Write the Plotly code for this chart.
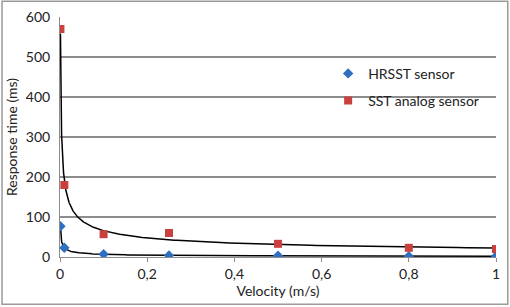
import numpy as np
import plotly.graph_objects as go

velocity = [0.001, 0.01, 0.1, 0.25, 0.5, 0.8, 1.0]
hrsst_ms = [77, 23, 7, 4, 3, 2, 2]
sst_ms = [570, 180, 57, 60, 33, 23, 20]
x_tickvals = [0, 0.2, 0.4, 0.6, 0.8, 1]
x_ticktext = ["0", "0,2", "0,4", "0,6", "0,8", "1"]
y_tickvals = [0, 100, 200, 300, 400, 500, 600]


def power_fit(x, y):
    b, loga = np.polyfit(np.log(x), np.log(y), 1)
    xs = np.geomspace(min(x), max(x), 300)
    return xs, np.exp(loga) * xs ** b


FONT = "Lato, Open Sans, sans-serif"
fig = go.Figure()

for ys in (sst_ms, hrsst_ms):
    fx, fy = power_fit(velocity, ys)
    fig.add_trace(go.Scatter(x=fx, y=fy, mode="lines", line=dict(color="black", width=1.5),
                             showlegend=False, hoverinfo="skip"))

fig.add_trace(go.Scatter(x=velocity, y=hrsst_ms, mode="markers", name="HRSST sensor",
                         legendgroup="hrsst",
                         marker=dict(symbol="diamond", size=8, color="#2F6FC0")))
fig.add_trace(go.Scatter(x=velocity, y=sst_ms, mode="markers", name="SST analog sensor",
                         legendgroup="sst",
                         marker=dict(symbol="square", size=8, color="#C9403E")))

fig.update_layout(
    width=510, height=307,
    margin=dict(l=60, r=14, t=17, b=50, autoexpand=False),
    paper_bgcolor="white", plot_bgcolor="white",
    font=dict(family=FONT, size=14, color="#222"),
    legend=dict(x=0.615, y=0.83, xanchor="left", yanchor="top", bgcolor="rgba(0,0,0,0)",
                font=dict(size=14), tracegroupgap=6, itemsizing="trace"),
    shapes=[dict(type="rect", xref="paper", yref="paper", x0=-0.133, x1=1.027, y0=-0.197, y1=1.066,
                 line=dict(color="#9a9a9a", width=1.5), fillcolor="rgba(0,0,0,0)", layer="above")],
)
fig.update_xaxes(range=[0, 1], tickvals=x_tickvals, ticktext=x_ticktext, showgrid=False,
                 showline=True, linecolor="#8c8c8c", linewidth=1, ticks="outside", ticklen=4,
                 tickcolor="#8c8c8c", zeroline=False, automargin=False, tickfont=dict(size=14),
                 title=dict(text="Velocity (m/s)", font=dict(size=14), standoff=3))
fig.update_yaxes(range=[0, 600], tickvals=y_tickvals, showgrid=True, gridcolor="#8c8c8c",
                 gridwidth=1.5, showline=True, linecolor="#8c8c8c", linewidth=1, zeroline=False,
                 ticks="", ticklabelstandoff=6, automargin=False, tickfont=dict(size=14),
                 title=dict(text="Response time (ms)", font=dict(size=14), standoff=4))

fig.write_html("out.html", config={"displayModeBar": False},
               post_script="document.body.style.margin='0';document.body.style.overflow='hidden';")
